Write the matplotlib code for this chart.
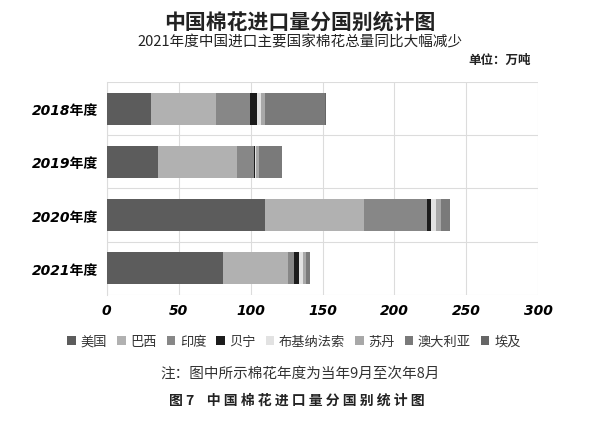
import numpy as np
import matplotlib
matplotlib.use('Agg')
import matplotlib.pyplot as plt

plt.rcParams['font.family'] = ['Noto Sans CJK SC', 'DejaVu Sans']

########################## data (万吨)
years = ['2018年度', '2019年度', '2020年度', '2021年度']
countries = ['美国', '巴西', '印度', '贝宁', '布基纳法索', '苏丹', '澳大利亚', '埃及']
us = [30.9, 35.8, 109.7, 80.7]
brazil = [45.0, 54.9, 69.1, 45.3]
india = [23.4, 11.4, 43.9, 4.4]
benin = [4.9, 0.9, 2.8, 3.2]
burkina = [2.7, 0.6, 3.7, 2.8]
sudan = [3.3, 2.2, 3.0, 2.3]
australia = [41.5, 15.8, 6.3, 2.4]
egypt = [0.7, 0.4, 0.5, 0.4]
xticks = [0, 50, 100, 150, 200, 250, 300]

series = [us, brazil, india, benin, burkina, sudan, australia, egypt]
colors = ['#5c5c5c', '#b1b1b1', '#878787', '#1c1c1c', '#e2e2e2', '#a8a8a8', '#7a7a7a', '#666666']

########################## plotting
fig = plt.figure(figsize=(6, 4.35), dpi=100)
ax = fig.add_axes([0.178, 0.320, 0.719, 0.489])

ypos = np.arange(len(years))
left = np.zeros(len(years))
for name, vals, c in zip(countries, series, colors):
    ax.barh(ypos, vals, left=left, height=0.6, color=c, label=name, zorder=3)
    left += np.array(vals)

ax.set_xlim(0, 300)
ax.set_ylim(len(years) - 0.5, -0.5)
ax.set_xticks(xticks)
ax.set_xticklabels([str(t) for t in xticks], fontsize=10, fontweight='bold',
                   fontstyle='italic', family='DejaVu Sans')
ax.set_yticks(ypos)
ax.set_yticklabels(years, fontsize=10, fontweight='bold', fontstyle='italic',
                   family=['DejaVu Sans', 'Noto Sans CJK SC'])
ax.tick_params(axis='both', length=0, pad=6)

# grid: vertical at ticks, horizontal between categories
ax.grid(axis='x', color='#dcdcdc', linewidth=0.8, zorder=0)
for b in np.arange(-0.5, len(years), 1.0):
    ax.axhline(b, color='#dcdcdc', linewidth=0.8, zorder=0)
for s in ax.spines.values():
    s.set_visible(False)
ax.spines['left'].set_visible(True)
ax.spines['left'].set_color('#dcdcdc')

########################## texts
fig.text(0.5, 0.948, '中国棉花进口量分国别统计图', ha='center', va='center',
         fontsize=15, fontweight='bold', color='#222222')
fig.text(0.5, 0.903, '2021年度中国进口主要国家棉花总量同比大幅减少', ha='center',
         va='center', fontsize=10.5, color='#222222')
fig.text(0.832, 0.862, '单位：万吨', ha='center', va='center', fontsize=9,
         fontweight='bold', color='#222222')

fig.legend(loc='center', bbox_to_anchor=(0.49, 0.213), ncol=8, frameon=False,
           fontsize=9.5, handlelength=0.65, handleheight=0.65, handletextpad=0.35,
           columnspacing=0.75, labelcolor='#333333')

fig.text(0.5, 0.142, '注：图中所示棉花年度为当年9月至次年8月', ha='center', va='center',
         fontsize=10.5, color='#333333')
fig.text(0.495, 0.080, '图 7    中 国 棉 花 进 口 量 分 国 别 统 计 图', ha='center',
         va='center', fontsize=10, fontweight='bold', color='#222222')

fig.savefig('out.png', dpi=100, facecolor='white')
